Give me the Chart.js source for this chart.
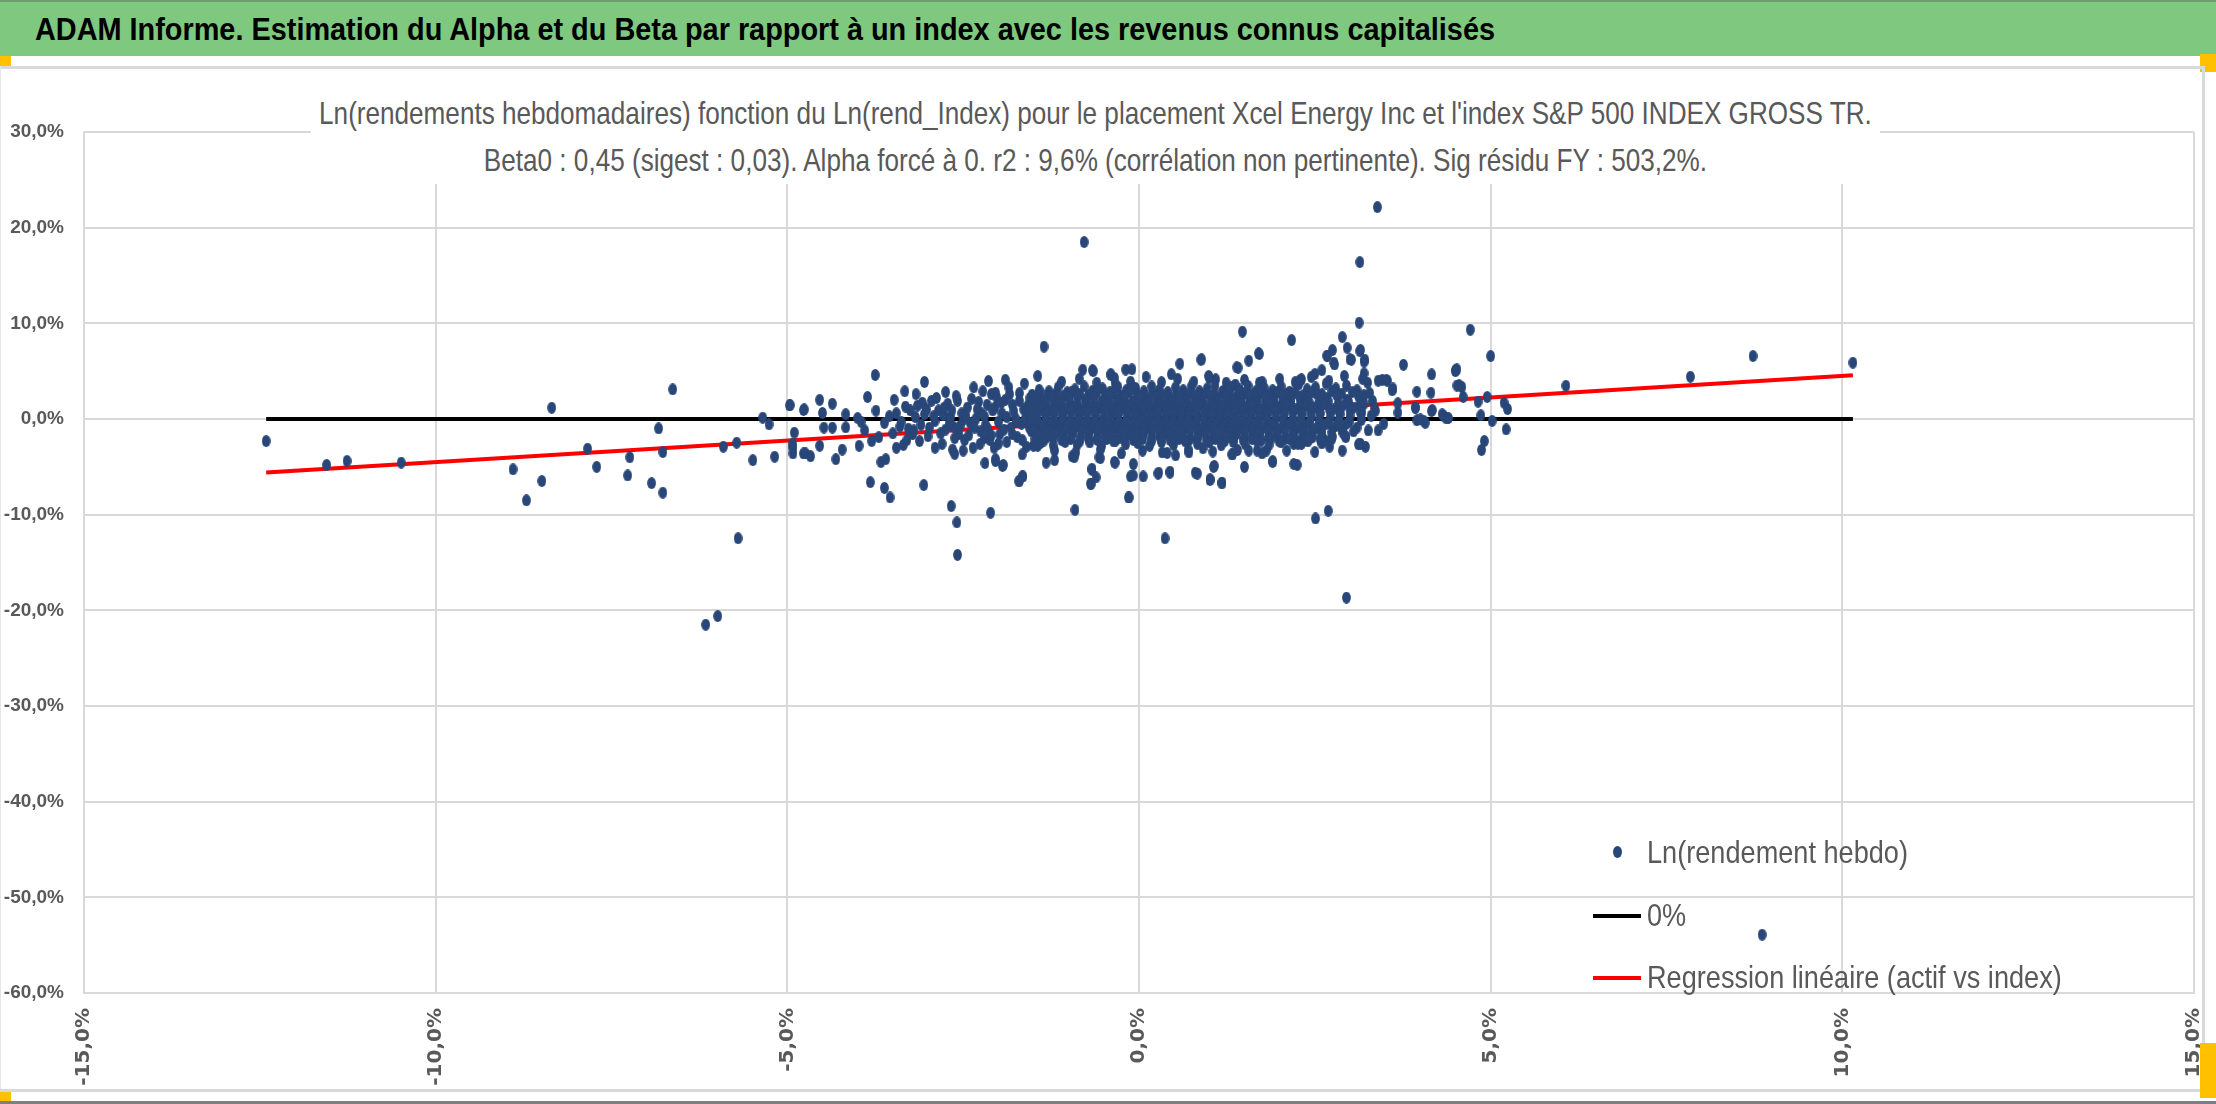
<!DOCTYPE html>
<html>
<head>
<meta charset="utf-8">
<title>ADAM Informe - Alpha et Beta</title>
<script src="https://cdn.jsdelivr.net/npm/chart.js@4.4.1/dist/chart.umd.min.js"></script>
<style>
  html, body { margin: 0; padding: 0; background: #fff; }
  #page { position: relative; width: 2216px; height: 1104px; overflow: hidden; background: #fff; }
  #chartBox { position: absolute; left: 0; top: 0; width: 2216px; height: 1104px; }
  .txt { font-family: "Liberation Sans", Arial, sans-serif; }
  #header { position: absolute; left: 0; top: 0; width: 2216px; height: 56px; background: #7ec97f; border-top: 2px solid #6e9e6f; box-sizing: border-box; }
  #headText { position: absolute; left: 35px; top: 0; line-height: 54px; font-weight: bold; font-size: 32px; color: #000; white-space: nowrap; transform-origin: 0 50%; }
  #subtitle { position: absolute; left: 0; top: 90px; width: 2190px; text-align: center; }
  #subInner { display: inline-block; background: #fff; padding: 0 10px; font-size: 32px; line-height: 47px; color: #595959; white-space: nowrap; transform-origin: 50% 50%; }
  .box { position: absolute; }
  .legText { position: absolute; left: 1647px; font-size: 32px; line-height: 40px; color: #595959; white-space: nowrap; transform-origin: 0 50%; }
</style>
</head>
<body>
<div id="page">
  <div id="chartBox"><canvas id="myChart"></canvas></div>

  <div id="header"><span id="headText" class="txt">ADAM Informe. Estimation du Alpha et du Beta par rapport à un index avec les revenus connus capitalisés</span></div>
  <div class="box" style="left:0;top:56px;width:11px;height:10px;background:#ffc000"></div>
  <div class="box" style="left:2200px;top:54px;width:16px;height:18px;background:#ffc000"></div>
  <div class="box" style="left:0;top:66px;width:2203px;height:3px;background:#d9d9d9"></div>
  <div class="box" style="left:2202px;top:66px;width:3px;height:1025px;background:#d9d9d9"></div>
  <div class="box" style="left:0;top:66px;width:1px;height:1025px;background:#e6e6e6"></div>
  <div class="box" style="left:0;top:1089px;width:2205px;height:3px;background:#d9d9d9"></div>
  <div class="box" style="left:0;top:1092px;width:11px;height:10px;background:#ffc000"></div>
  <div class="box" style="left:2200px;top:1043px;width:16px;height:55px;background:#ffc000"></div>
  <div class="box" style="left:0;top:1101px;width:2216px;height:3px;background:#7f7f7f"></div>

  <div id="subtitle" class="txt">
    <div id="subInner">Ln(rendements hebdomadaires) fonction du Ln(rend_Index) pour le placement Xcel Energy Inc et l'index S&amp;P 500 INDEX GROSS TR.<br>Beta0 : 0,45 (sigest : 0,03). Alpha forcé à 0. r2 : 9,6% (corrélation non pertinente). Sig résidu FY : 503,2%.</div>
  </div>

  <div id="legDot" class="box" style="left:1613px;top:846px;width:9px;height:12px;border-radius:50%;"></div>
  <div id="leg1" class="legText txt" style="top:832px">Ln(rendement hebdo)</div>
  <div class="box" style="left:1593px;top:914px;width:48px;height:4px;background:#000"></div>
  <div id="leg2" class="legText txt" style="top:895px">0%</div>
  <div class="box" style="left:1593px;top:976px;width:48px;height:4px;background:#ff0000"></div>
  <div id="leg3" class="legText txt" style="top:957px">Regression linéaire (actif vs index)</div>
</div>

<script>
// values in % : [Ln(rend_Index), Ln(rendement hebdo)]
const farLeftPoints = [
  [-12.41,-2.3],[-11.55,-4.8],[-11.26,-4.39],[-10.49,-4.56],[-8.9,-5.26],[-8.71,-8.5],[-8.49,-6.48],
  [-8.35,1.18],[-7.84,-3.1],[-7.71,-5.0],[-7.27,-5.9],[-7.24,-4.0],[-6.93,-6.7],[-6.77,-7.7],
  [-6.77,-3.45],[-6.83,-0.98],[-6.63,3.1],[-5.91,-2.9],[-5.72,-2.47],[-5.7,-12.47],[-5.99,-20.6],
  [-6.16,-21.5],[-5.49,-4.3],[-5.35,0.14],[-5.26,-0.56],[-5.18,-3.94]
];

const midLeftPoints = [
  [-4.96,1.46],[-4.77,0.94],[-4.9,-1.43],[-4.92,-3.0],[-4.92,-3.6],[-4.77,-3.6],[-4.97,1.43],
  [-4.76,1.0],[-4.54,2.0],[-4.36,1.6],[-4.5,0.63],[-4.93,-2.6],[-4.74,-3.6],[-4.67,-3.9],
  [-4.54,-2.8],[-4.48,-0.9],[-4.36,-0.9],[-4.31,-4.2],[-4.22,-3.2],
  [-3.75,4.6],[-3.86,2.3],[-3.74,0.87],[-3.48,2.0],[-3.33,2.9],[-3.17,2.6],[-3.08,1.7],
  [-3.62,-0.4],[-3.8,-2.3],[-3.98,-2.8],[-4.17,0.5],[-4.17,-0.87],[-3.67,-4.5],[-3.6,-4.2],
  [-3.5,-1.5],[-3.4,-0.8],[-3.3,-2.2],[-3.55,0.3],[-3.25,0.9],[-3.9,-1.2],[-3.45,-3.0],
  [-3.35,-2.7],[-3.7,-1.9],[-3.22,-1.6],[-4.0,0.1],[-3.95,-0.3],
  [-3.15,1.4],[-3.1,-0.6],[-3.05,0.5],[-3.0,-1.8],[-2.95,1.9],[-2.9,-0.2],[-2.85,0.9],
  [-2.8,-2.6],[-2.75,-1.1],[-2.72,1.6],[-2.68,0.2],[-2.64,-0.8],[-2.6,2.4],[-2.56,-1.6],
  [-2.52,0.6],[-2.48,-2.2],[-2.44,1.2],[-2.4,-0.4],[-2.36,-3.0],[-2.32,0.0],[-2.28,1.8],
  [-2.25,-1.3],[-2.22,2.9],[-2.2,-2.0],[-2.35,3.3],[-2.65,-3.2],[-2.9,-3.0],[-3.2,-1.2],
  [-2.5,-0.1],[-2.78,0.4],[-3.05,3.87],[-2.75,2.82],[-2.14,3.97],[-1.9,4.1],[-1.63,3.7],
  [-1.44,4.5],[-2.04,2.75],[-2.1,2.6],[-2.05,1.2],[-2.0,-0.3],[-1.98,-1.6],[-1.95,0.6],
  [-1.9,2.0],[-1.88,-2.4],[-1.85,3.3],[-1.82,-0.9],[-1.8,1.5],[-1.76,0.1],[-1.73,-1.9],
  [-1.7,2.7],[-1.67,-0.5],[-1.64,1.0],[-1.6,-2.9],[-1.58,0.4],[-1.55,2.2],[-1.53,-1.3],
  [-2.15,-1.0],[-2.2,0.3],[-2.12,-2.2],[-2.06,-3.0],[-1.66,-3.7],[-1.44,-2.8],[-1.5,-2.8]
];

const leftDense = [
  [-3.45,0.6],[-3.38,-0.3],[-3.32,1.3],[-3.28,-1.0],[-3.18,0.2],[-3.12,-2.3],[-3.02,1.0],
  [-2.98,-0.9],[-2.92,0.3],[-2.88,2.2],[-2.82,-1.5],[-2.77,1.2],[-2.7,-0.5],[-2.66,0.9],
  [-2.62,-2.0],[-2.58,1.9],[-2.54,-0.7],[-2.46,0.3],[-2.42,-1.7],[-2.38,2.1],[-2.34,-0.9],
  [-2.3,1.0],[-2.26,-2.6],[-2.24,0.6],[-2.18,-0.6],[-2.16,1.5],[-2.1,-1.7],[-2.08,0.9],
  [-2.02,2.2],[-2.0,-2.6],[-1.96,1.7],[-1.92,-1.1],[-1.88,0.2],[-1.84,2.6],[-1.8,-1.6],
  [-1.78,0.8],[-1.74,-0.3],[-1.7,1.9],[-1.66,-2.2],[-1.62,0.0],[-1.58,1.4],[-1.56,-0.9]
];

const lowerScatter = [
  [-3.82,-6.6],[-3.62,-7.2],[-3.54,-8.2],[-3.06,-6.9],[-2.67,-9.1],[-2.59,-10.8],[-2.58,-14.2],
  [-2.11,-9.8],[-0.91,-9.5],[-0.15,-8.2],[-1.71,-6.5],[-1.65,-6.0],[-0.69,-6.75],[-0.67,-5.3],
  [-0.12,-6.0],[-0.34,-4.56],[-0.55,-4.1],[-1.32,-4.56],[-1.2,-4.3],[-0.95,-3.9],[-2.62,-3.65],
  [-2.5,-3.3],[-2.19,-4.6],[-2.04,-4.4],[-1.93,-4.8],[-1.94,-4.9],[-2.04,-4.2],[-1.7,-6.5],
  [-1.66,-6.0],[-0.92,-4.0],[-0.67,-5.2],[-0.68,-6.8],[-0.61,-6.1],[-0.57,-4.0],[-0.35,-4.5],
  [-0.08,-5.9],[-0.08,-4.7],[0.28,-5.6],[0.44,-5.5],[0.8,-5.6],[1.07,-4.9],[1.01,-6.3],
  [1.18,-6.65],[1.32,-3.7],[0.91,-3.06],[0.71,-3.5],[0.52,-3.8],[0.33,-3.5],
  [2.25,-4.8],[1.9,-4.5],[1.5,-5.0],[1.18,-6.72],[1.01,-6.38],[1.06,-5.0],[0.83,-5.7],
  [0.44,-5.6],[0.27,-5.7],[0.06,-6.0],[-0.14,-8.2],[0.37,-12.47],[2.51,-10.4],[2.69,-9.6],
  [2.95,-18.67],[2.2,-4.7],[1.9,-4.4],[1.81,-3.3],[1.68,-3.3],[1.56,-3.3],[1.33,-3.7],[1.99,-2.3]
];

const upperScatter = [
  [-0.78,18.5],[-1.35,7.56],[-0.8,5.15],[-0.66,5.1],[-0.4,4.6],[-0.19,5.17],[-0.34,3.7],
  [-0.65,5.0],[0.58,5.78],[0.88,6.2],[1.39,5.4],[-0.4,4.68],[-0.1,5.2],[0.46,4.68],[0.99,4.5],
  [1.09,4.15],[3.39,22.15],[3.14,16.4],[3.13,10.07],[1.47,9.13],[2.17,8.25],[2.89,8.57],
  [2.96,7.45],[3.0,6.23],[3.14,7.1],[3.2,6.0],[3.2,4.77],[2.67,6.62],[2.75,7.2],[2.77,5.9],
  [1.7,6.86],[1.56,6.1],[1.41,5.36],[0.89,6.23],[2.3,4.1],[2.68,6.6],[3.15,7.2],[3.02,6.2],
  [3.21,6.2],[2.78,5.7],[2.6,5.1],[2.5,4.7],[2.31,4.15],[2.28,4.0],[1.71,3.8],[1.37,3.6],
  [1.71,6.8]
];

const clusterTop = [
  [-1.1,3.9],[-0.85,4.2],[-0.6,3.8],[-0.35,4.3],[-0.12,3.9],[0.1,4.4],[0.32,3.85],[0.55,4.2],
  [0.78,3.9],[1.0,4.3],[1.24,3.8],[1.5,4.1],[1.75,3.9],[2.0,4.2],[2.22,3.85],[2.45,4.4],
  [2.7,4.0],[2.92,4.5],[3.18,4.2]
];

const clusterUpper = [
  [-1.42,3.05],[-1.28,2.9],[-1.15,3.3],[-1.02,2.8],[-0.91,3.1],[-0.78,3.4],[-0.66,2.95],
  [-0.52,3.2],[-0.41,2.85],[-0.3,3.35],[-0.18,3.0],[-0.05,3.25],[0.07,2.9],[0.18,3.4],
  [0.29,3.05],[0.41,2.8],[0.52,3.3],[0.63,3.0],[0.75,3.45],[0.86,2.9],[0.97,3.2],[1.08,3.5],
  [1.2,2.95],[1.31,3.3],[1.43,3.1],[1.55,3.45],[1.66,2.9],[1.78,3.25],[1.9,3.0],[2.02,3.4],
  [2.14,2.85],[2.27,3.6],[2.39,3.1],[2.51,3.3],[2.66,3.7],[2.8,3.2],[2.95,3.5],[3.1,3.0],
  [3.25,3.8]
];

const clusterUpper2 = [
  [-1.52,2.55],[-1.41,2.75],[-1.3,2.5],[-1.18,2.7],[-1.07,2.45],[-0.96,2.8],[-0.84,2.6],
  [-0.72,2.5],[-0.6,2.75],[-0.48,2.55],[-0.36,2.7],[-0.25,2.45],[-0.14,2.8],[-0.03,2.6],
  [0.08,2.5],[0.19,2.75],[0.3,2.55],[0.41,2.7],[0.52,2.45],[0.63,2.65],[0.74,2.8],[0.85,2.5],
  [0.96,2.7],[1.07,2.55],[1.18,2.8],[1.29,2.6],[1.4,2.45],[1.51,2.75],[1.62,2.55],[1.73,2.7],
  [1.85,2.5],[1.97,2.8],[2.09,2.6],[2.21,2.75],[2.34,2.5],[2.47,2.85],[2.6,2.6],[2.74,2.9],
  [2.88,2.65],[3.03,2.8],[3.2,2.5]
];

const clusterHigh = [
  [-1.47,2.1],[-1.36,1.9],[-1.24,2.35],[-1.12,1.8],[-1.0,2.2],[-0.88,2.45],[-0.76,1.95],
  [-0.64,2.3],[-0.53,1.85],[-0.42,2.4],[-0.31,2.0],[-0.2,2.3],[-0.09,1.8],[0.02,2.25],
  [0.13,1.95],[0.24,2.4],[0.35,2.1],[0.46,1.85],[0.57,2.35],[0.68,2.0],[0.79,2.3],[0.9,1.9],
  [1.01,2.45],[1.12,2.05],[1.23,2.3],[1.34,1.85],[1.45,2.2],[1.56,2.4],[1.67,1.95],[1.79,2.3],
  [1.91,2.05],[2.03,2.5],[2.15,1.9],[2.28,2.35],[2.4,2.1],[2.53,2.6],[2.67,2.2],[2.81,2.5],
  [2.96,2.0],[3.12,2.4],[3.28,2.7]
];

const clusterHigh2 = [
  [-1.55,1.6],[-1.44,1.75],[-1.33,1.55],[-1.21,1.7],[-1.1,1.6],[-0.98,1.8],[-0.87,1.55],
  [-0.75,1.7],[-0.64,1.6],[-0.52,1.75],[-0.41,1.55],[-0.3,1.7],[-0.19,1.6],[-0.08,1.8],
  [0.03,1.55],[0.14,1.7],[0.25,1.6],[0.36,1.8],[0.47,1.55],[0.58,1.7],[0.69,1.6],[0.8,1.75],
  [0.91,1.55],[1.02,1.7],[1.13,1.6],[1.24,1.8],[1.35,1.55],[1.46,1.7],[1.57,1.6],[1.68,1.8],
  [1.8,1.55],[1.92,1.75],[2.04,1.6],[2.16,1.8],[2.29,1.55],[2.42,1.75],[2.55,1.6],[2.69,1.85],
  [2.83,1.6],[2.98,1.8],[3.14,1.55],[3.32,1.9]
];

const clusterMid = [
  [-1.5,1.1],[-1.39,1.3],[-1.27,0.95],[-1.16,1.4],[-1.04,1.05],[-0.93,1.3],[-0.81,0.9],
  [-0.7,1.25],[-0.58,1.1],[-0.47,1.4],[-0.36,0.95],[-0.25,1.2],[-0.14,1.35],[-0.03,1.0],
  [0.08,1.3],[0.19,0.9],[0.3,1.25],[0.41,1.4],[0.52,1.0],[0.63,1.3],[0.74,1.1],[0.85,1.45],
  [0.96,0.95],[1.07,1.25],[1.18,1.4],[1.29,1.0],[1.4,1.3],[1.51,1.15],[1.62,1.45],[1.74,0.95],
  [1.86,1.3],[1.98,1.1],[2.1,1.5],[2.22,1.0],[2.35,1.35],[2.48,1.2],[2.62,1.55],[2.76,1.0],
  [2.9,1.4],[3.05,1.2],[3.2,1.6],[3.35,1.1]
];

const clusterMid2 = [
  [-1.53,0.7],[-1.42,0.85],[-1.31,0.65],[-1.19,0.8],[-1.08,0.7],[-0.96,0.9],[-0.85,0.65],
  [-0.73,0.8],[-0.62,0.7],[-0.5,0.85],[-0.39,0.65],[-0.28,0.8],[-0.17,0.7],[-0.06,0.9],
  [0.05,0.65],[0.16,0.8],[0.27,0.7],[0.38,0.85],[0.49,0.65],[0.6,0.8],[0.71,0.7],[0.82,0.9],
  [0.93,0.65],[1.04,0.8],[1.15,0.7],[1.26,0.85],[1.37,0.65],[1.48,0.8],[1.59,0.7],[1.7,0.9],
  [1.82,0.65],[1.94,0.8],[2.06,0.7],[2.18,0.9],[2.31,0.65],[2.44,0.85],[2.57,0.7],[2.71,0.95],
  [2.85,0.75],[3.0,0.9],[3.17,0.7],[3.36,0.85]
];

const clusterCenter = [
  [-1.46,0.2],[-1.33,0.45],[-1.21,0.05],[-1.09,0.35],[-0.97,0.1],[-0.86,0.5],[-0.74,0.15],
  [-0.62,0.4],[-0.51,0.0],[-0.4,0.3],[-0.29,0.55],[-0.17,0.1],[-0.06,0.4],[0.05,0.2],
  [0.16,0.5],[0.27,0.05],[0.38,0.35],[0.49,0.55],[0.6,0.15],[0.71,0.45],[0.82,0.1],[0.93,0.35],
  [1.04,0.55],[1.15,0.2],[1.26,0.4],[1.37,0.05],[1.48,0.3],[1.6,0.5],[1.71,0.15],[1.83,0.4],
  [1.95,0.2],[2.07,0.55],[2.19,0.1],[2.32,0.45],[2.45,0.25],[2.58,0.6],[2.72,0.2],[2.86,0.5],
  [3.0,0.3],[3.15,0.65],[3.3,0.35]
];

const clusterCenter2 = [
  [-1.54,-0.2],[-1.43,-0.35],[-1.32,-0.15],[-1.2,-0.3],[-1.09,-0.2],[-0.97,-0.4],[-0.86,-0.15],
  [-0.74,-0.3],[-0.63,-0.2],[-0.51,-0.35],[-0.4,-0.15],[-0.29,-0.3],[-0.18,-0.2],[-0.07,-0.4],
  [0.04,-0.15],[0.15,-0.3],[0.26,-0.2],[0.37,-0.35],[0.48,-0.15],[0.59,-0.3],[0.7,-0.2],
  [0.81,-0.4],[0.92,-0.15],[1.03,-0.3],[1.14,-0.2],[1.25,-0.35],[1.36,-0.15],[1.47,-0.3],
  [1.58,-0.2],[1.69,-0.4],[1.81,-0.15],[1.93,-0.3],[2.05,-0.2],[2.17,-0.35],[2.3,-0.15],
  [2.43,-0.3],[2.56,-0.2],[2.7,-0.4],[2.84,-0.15],[2.99,-0.3],[3.16,-0.1]
];

const clusterLower = [
  [-1.49,-0.7],[-1.37,-0.9],[-1.25,-0.55],[-1.13,-1.0],[-1.01,-0.65],[-0.9,-0.85],[-0.78,-0.5],
  [-0.67,-0.95],[-0.55,-0.7],[-0.44,-0.55],[-0.33,-0.9],[-0.22,-0.65],[-0.11,-1.0],[0.0,-0.6],
  [0.11,-0.85],[0.22,-0.5],[0.33,-0.95],[0.44,-0.7],[0.55,-0.55],[0.66,-0.9],[0.77,-0.6],
  [0.88,-1.0],[0.99,-0.7],[1.1,-0.5],[1.21,-0.85],[1.32,-0.6],[1.43,-0.95],[1.54,-0.7],
  [1.65,-0.5],[1.77,-0.9],[1.89,-0.65],[2.01,-1.0],[2.13,-0.55],[2.26,-0.8],[2.39,-0.6],
  [2.52,-0.95],[2.66,-0.5],[2.8,-0.75],[2.94,-0.55],[3.1,-0.9]
];

const clusterLower2 = [
  [-1.51,-1.2],[-1.4,-1.35],[-1.28,-1.15],[-1.17,-1.3],[-1.05,-1.2],[-0.94,-1.4],[-0.82,-1.15],
  [-0.71,-1.3],[-0.59,-1.2],[-0.48,-1.35],[-0.37,-1.15],[-0.26,-1.3],[-0.15,-1.2],[-0.04,-1.4],
  [0.07,-1.15],[0.18,-1.3],[0.29,-1.2],[0.4,-1.35],[0.51,-1.15],[0.62,-1.3],[0.73,-1.2],
  [0.84,-1.4],[0.95,-1.15],[1.06,-1.3],[1.17,-1.2],[1.28,-1.35],[1.39,-1.15],[1.5,-1.3],
  [1.61,-1.2],[1.72,-1.4],[1.84,-1.15],[1.96,-1.3],[2.08,-1.2],[2.2,-1.35],[2.33,-1.15],
  [2.46,-1.3],[2.6,-1.2],[2.74,-1.4],[2.89,-1.15],[3.05,-1.3]
];

const clusterLow = [
  [-1.44,-1.6],[-1.31,-1.85],[-1.19,-1.5],[-1.07,-2.0],[-0.95,-1.65],[-0.83,-1.9],[-0.72,-1.55],
  [-0.6,-2.05],[-0.49,-1.7],[-0.38,-1.5],[-0.27,-1.95],[-0.15,-1.6],[-0.04,-1.85],[0.07,-1.5],
  [0.18,-2.0],[0.29,-1.7],[0.4,-1.55],[0.51,-1.9],[0.62,-1.6],[0.73,-2.05],[0.84,-1.75],
  [0.95,-1.5],[1.06,-1.95],[1.17,-1.65],[1.28,-1.85],[1.39,-1.55],[1.5,-2.0],[1.61,-1.7],
  [1.72,-1.5],[1.84,-1.9],[1.96,-1.6],[2.08,-2.05],[2.2,-1.7],[2.33,-1.5],[2.46,-1.9],
  [2.6,-1.6],[2.75,-1.85],[2.9,-1.45]
];

const clusterLow2 = [
  [-1.48,-2.1],[-1.35,-2.25],[-1.22,-2.05],[-1.1,-2.2],[-0.97,-2.1],[-0.84,-2.3],[-0.72,-2.05],
  [-0.59,-2.2],[-0.46,-2.1],[-0.33,-2.25],[-0.2,-2.05],[-0.08,-2.2],[0.05,-2.1],[0.18,-2.3],
  [0.31,-2.05],[0.44,-2.2],[0.57,-2.1],[0.7,-2.25],[0.83,-2.05],[0.96,-2.2],[1.09,-2.1],
  [1.22,-2.3],[1.35,-2.05],[1.48,-2.2],[1.61,-2.1],[1.74,-2.25],[1.87,-2.05],[2.0,-2.2],
  [2.14,-2.1],[2.28,-2.3],[2.43,-2.05],[2.58,-2.2],[2.74,-2.1]
];

const clusterBottom = [
  [-1.4,-2.5],[-1.22,-2.75],[-1.05,-2.4],[-0.88,-2.7],[-0.7,-2.45],[-0.53,-2.8],[-0.36,-2.35],
  [-0.19,-2.65],[-0.02,-2.5],[0.15,-2.8],[0.32,-2.4],[0.49,-2.7],[0.66,-2.35],[0.83,-2.6],
  [1.0,-2.45],[1.17,-2.75],[1.34,-2.4],[1.51,-2.65],[1.68,-2.3],[1.85,-2.7],[2.02,-2.45],
  [2.2,-2.6],[2.4,-2.35],[2.6,-2.55],
  [-1.2,-3.3],[-0.9,-3.5],[-0.55,-3.2],[-0.25,-3.6],[0.05,-3.3],[0.4,-3.55],[0.7,-3.2],
  [1.05,-3.4],[1.4,-3.25],[1.75,-3.6],[2.1,-3.3],[2.5,-3.45]
];

const rightPoints = [
  [3.76,5.67],[4.16,4.67],[4.15,2.75],[3.95,2.85],[3.93,1.18],[3.68,1.64],[3.52,4.08],
  [3.61,3.2],[3.46,4.1],[4.17,0.94],[3.95,-0.14],[4.05,-0.2],[4.33,0.34],[3.48,-0.5],
  [3.4,-1.2],[3.22,-2.9],[3.15,-2.6],[2.89,-3.3],[2.71,-2.9],[2.94,-1.9],[2.64,-2.2],
  [2.46,-1.9],[2.31,-2.6],[4.5,5.1],[4.52,3.5],[3.53,4.0],[3.4,4.0],[3.6,3.0],[3.68,0.66],
  [3.93,1.2],[4.0,-0.03],[4.16,0.83],[4.31,0.5],[4.37,0.06],[4.07,-0.4],[3.26,-1.2],
  [3.12,-2.65],[2.6,-2.0],[2.94,-1.8],[2.4,-1.8],[2.26,-2.6],
  [4.71,9.33],[5.0,6.58],[4.52,5.19],[4.5,5.0],[4.55,3.55],[4.59,3.34],[4.61,2.3],[4.82,1.81],
  [4.95,2.3],[5.19,1.7],[5.24,1.04],[4.86,0.38],[5.02,-0.2],[5.22,-1.08],[4.91,-2.3],
  [4.87,-3.24],[4.4,0.1],[6.07,3.48],[7.84,4.42],[8.73,6.58],[10.15,5.89],[8.86,-53.9]
];

const beta0 = 0.45;   // Beta0 du titre, alpha forcé à 0
const xTicks = [-15, -10, -5, 0, 5, 10, 15];
const yTicks = [-60, -50, -40, -30, -20, -10, 0, 10, 20, 30];

const pointColor = '#284677';
const gridColor = '#d9d9d9';
const labelColor = '#595959';

let allPoints = [].concat(farLeftPoints, midLeftPoints, leftDense, lowerScatter, upperScatter,
  clusterTop, clusterUpper, clusterUpper2, clusterHigh, clusterHigh2, clusterMid, clusterMid2,
  clusterCenter, clusterCenter2, clusterLower, clusterLower2, clusterLow, clusterLow2,
  clusterBottom, rightPoints);

let scatterData = [];
for (let i = 0; i < allPoints.length; i++) {
  scatterData.push({x: allPoints[i][0], y: allPoints[i][1]});
}

let xMin = Math.min(...allPoints.map(p => p[0]));
let xMax = Math.max(...allPoints.map(p => p[0]));

// Excel markers come out as slightly tall ellipses
const dot = document.createElement('canvas');
dot.width = 9; dot.height = 12;
const dctx = dot.getContext('2d');
dctx.fillStyle = pointColor;
dctx.beginPath();
dctx.ellipse(4.5, 6, 4.4, 5.9, 0, 0, Math.PI * 2);
dctx.fill();
document.getElementById('legDot').style.background = pointColor;

function pct(v) {
  return (Math.round(v * 10) / 10).toFixed(1).replace('.', ',') + '%';
}

// squeeze the html texts to the widths measured on the picture
function fitWidth(el, target) {
  const w = el.getBoundingClientRect().width;
  const s = target / w;
  el.style.transform = 'scaleX(' + s + ')';
  return s;
}
fitWidth(document.getElementById('headText'), 1460);
const sub = document.getElementById('subInner');
sub.style.transform = 'scaleX(' + ((1549 + 20) / sub.getBoundingClientRect().width) + ')';
const legScale = 261 / document.getElementById('leg1').getBoundingClientRect().width;
['leg1', 'leg2', 'leg3'].forEach(id => {
  document.getElementById(id).style.transform = 'scaleX(' + legScale + ')';
});

var ctx = document.getElementById('myChart');
var myChart = new Chart(ctx, {
  type: 'scatter',
  data: {
    datasets: [
      {
        label: 'Ln(rendement hebdo)',
        data: scatterData,
        pointStyle: dot,
        pointRadius: 5,
        backgroundColor: pointColor,
        borderColor: pointColor
      },
      {
        label: '0%',
        data: [{x: xMin, y: 0}, {x: xMax, y: 0}],
        showLine: true,
        borderColor: '#000000',
        borderWidth: 4,
        pointRadius: 0
      },
      {
        label: 'Regression linéaire (actif vs index)',
        data: [{x: xMin, y: beta0 * xMin}, {x: xMax, y: beta0 * xMax}],
        showLine: true,
        borderColor: '#ff0000',
        borderWidth: 4,
        pointRadius: 0
      }
    ]
  },
  options: {
    responsive: true,
    maintainAspectRatio: false,
    animation: false,
    layout: { padding: { top: 132, right: 22, left: 0, bottom: 0 } },
    plugins: {
      legend: { display: false },
      tooltip: { enabled: false }
    },
    scales: {
      x: {
        type: 'linear',
        min: xTicks[0],
        max: xTicks[xTicks.length - 1],
        afterBuildTicks: s => { s.ticks = xTicks.map(v => ({value: v})); },
        afterFit: s => { s.height = 111; s.paddingLeft = 0; s.paddingRight = 0; },
        ticks: {
          callback: v => pct(v),
          color: labelColor,
          font: { family: '"DejaVu Sans"', weight: 'bold', size: 20 },
          minRotation: 90,
          maxRotation: 90,
          padding: 15
        },
        grid: { color: gridColor, lineWidth: 2, drawTicks: false },
        border: { color: gridColor, width: 2 }
      },
      y: {
        type: 'linear',
        min: yTicks[0],
        max: yTicks[yTicks.length - 1],
        afterBuildTicks: s => { s.ticks = yTicks.map(v => ({value: v})); },
        afterFit: s => { s.width = 84; },
        ticks: {
          callback: v => pct(v),
          color: labelColor,
          font: { family: '"Liberation Sans", Arial, sans-serif', weight: 'bold', size: 19 },
          padding: 20
        },
        grid: { color: gridColor, lineWidth: 2, drawTicks: false },
        border: { color: gridColor, width: 2 }
      }
    }
  }
});
</script>
</body>
</html>
